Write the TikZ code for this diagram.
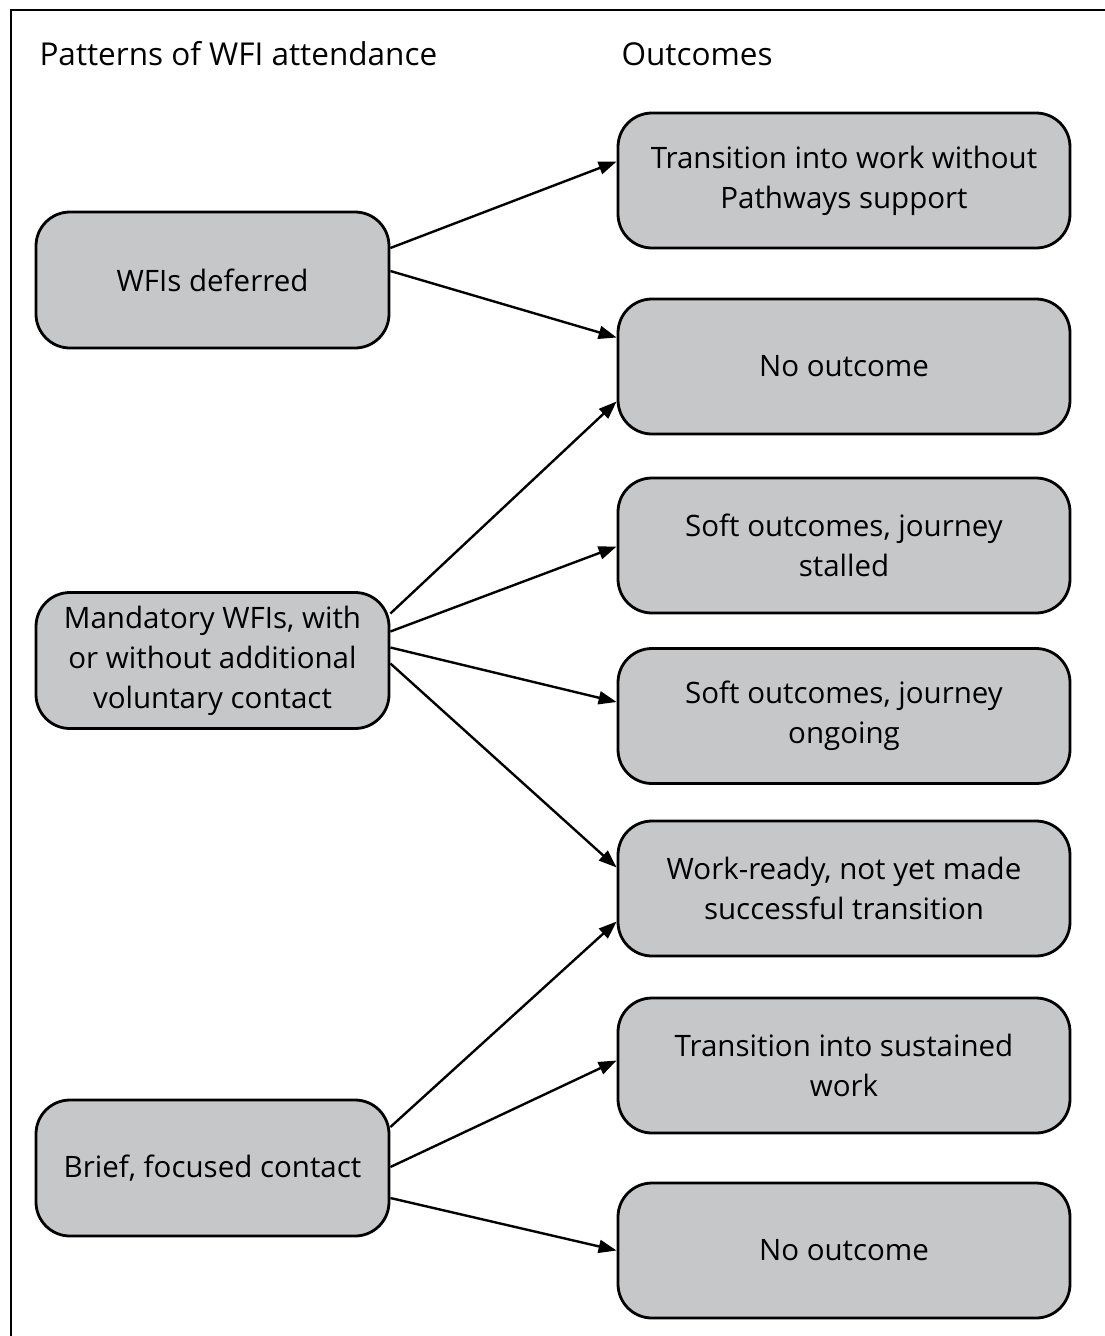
\documentclass[tikz,border=0pt]{standalone}
\usepackage{fontspec}
\setmainfont{Open Sans}
\usetikzlibrary{arrows.meta}
\definecolor{boxgrey}{HTML}{C6C7C9}

\begin{document}
\begin{tikzpicture}[
  x=1pt, y=-1pt,
  every node/.style={font=\fontsize{29.5}{40}\selectfont},
  heading/.style={anchor=base west, font=\fontsize{31.5}{40}\selectfont},
  box/.style={
    draw,
    line width=2.8pt,
    fill=boxgrey,
    rounded corners=34pt,
    align=center,
    inner sep=0pt
  },
  pattern/.style={box, minimum width=353pt, minimum height=136pt},
  outcome/.style={box, minimum width=452pt, minimum height=135pt},
  link/.style={line width=2.4pt, -{Triangle[length=18pt,width=13pt]}}
]
\useasboundingbox (0,0) rectangle (1105,1336);
\draw[line width=2.6pt] (11,1340) -- (11,10) -- (1110,10);

\node[heading] (head1) at (36,65) {Patterns of WFI attendance};
\node[heading] (head2) at (618,65) {Outcomes};

\node[pattern] (p1) at (212.5,280) {WFIs deferred};
\node[pattern] (p2) at (212.5,660.5) {Mandatory WFIs, with\\or without additional\\voluntary contact};
\node[pattern] (p3) at (212.5,1168) {Brief, focused contact};

\node[outcome] (o1) at (844,180.5) {Transition into work without\\Pathways support};
\node[outcome] (o2) at (844,366.5) {No outcome};
\node[outcome] (o3) at (844,545.5) {Soft outcomes, journey\\stalled};
\node[outcome] (o4) at (844,716) {Soft outcomes, journey\\ongoing};
\node[outcome] (o5) at (844,888.5) {Work-ready, not yet made\\successful transition};
\node[outcome] (o6) at (844,1065.5) {Transition into sustained\\work};
\node[outcome] (o7) at (844,1250.5) {No outcome};

% WFIs deferred
\draw[link] ([yshift=32]p1.east) -- ([yshift=19]o1.west);
\draw[link] ([yshift=9]p1.east) -- ([yshift=29]o2.west);
% mandatory
\draw[link] ([yshift=47]p2.east) -- ([yshift=-35]o2.west);
\draw[link] ([yshift=29]p2.east) -- ([yshift=-1]o3.west);
\draw[link] ([yshift=13]p2.east) -- ([yshift=14]o4.west);
\draw[link] ([yshift=-3]p2.east) -- ([yshift=21]o5.west);
% brief
\draw[link] ([yshift=41]p3.east) -- ([yshift=-33]o5.west);
\draw[link] ([yshift=1]p3.east) -- ([yshift=5]o6.west);
\draw[link] ([yshift=-30]p3.east) -- ([yshift=0]o7.west);
\end{tikzpicture}
\end{document}
